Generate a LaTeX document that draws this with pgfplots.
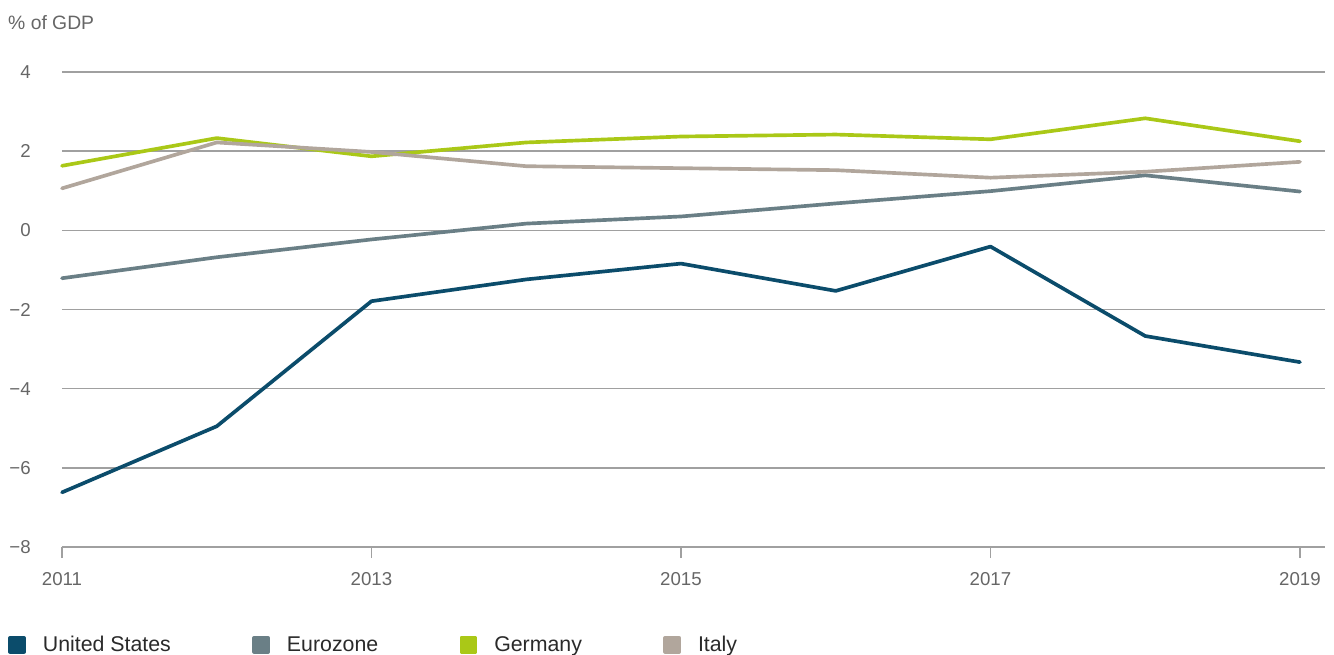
\documentclass[border=0pt]{standalone}
\usepackage{fontspec}
\setmainfont{Liberation Sans}
\usepackage{pgfplots}
\pgfplotsset{compat=1.18}
\definecolor{cUS}{HTML}{0B4C6B}
\definecolor{cEZ}{HTML}{6A7F86}
\definecolor{cDE}{HTML}{AAC817}
\definecolor{cIT}{HTML}{B1A69C}
\definecolor{cgrid}{HTML}{A0A0A0}
\definecolor{ctxt}{HTML}{666666}
\definecolor{cleg}{HTML}{2A2A2A}
\begin{document}
\begin{tikzpicture}
\path[use as bounding box] (0pt,0pt) rectangle (1000.5pt,-491.25pt);
\begin{axis}[
  at={(46.5pt,-410.25pt)}, anchor=south west,
  scale only axis, width=947.25pt, height=356.25pt,
  xmin=2011, xmax=2019.1616, ymin=-8, ymax=4,
  xtick={2011,2013,2015,2017,2019},
  xticklabels={2011,2013,2015,2017,2019},
  ytick={-8,-6,-4,-2,0,2,4},
  yticklabels={−8,−6,−4,−2,0,2,4},
  ymajorgrids, grid style={cgrid, line width=1.2pt},
  axis x line*=bottom, axis y line*=left,
  x axis line style={cgrid, line width=1.2pt, -},
  y axis line style={draw=none},
  xtick style={cgrid, line width=1.2pt},
  ytick style={draw=none},
  tick align=outside, major tick length=8.25pt,
  ticklabel style={font=\fontsize{14}{16}\selectfont, text=ctxt},
  yticklabel style={inner sep=0pt, anchor=east, xshift=-15pt},
  xticklabel style={inner sep=0pt, anchor=north, yshift=-10.5pt},
  clip=false,
  legend columns=4,
  legend style={at={(axis description cs:-0.0428,-0.206)}, anchor=west,
    draw=none, fill=none, inner sep=0pt,
    font=\fontsize{16}{19}\selectfont, text=cleg,
    nodes={inner sep=0pt},
    /tikz/every odd column/.append style={column sep=12.75pt},
    /tikz/every even column/.append style={column sep=61pt}},
  legend image code/.code={\fill[#1] (0pt,-5.25pt) rectangle (10.5pt,5.25pt);},
  every axis plot/.append style={line width=2.75pt, line join=round, line cap=round},
]
\addplot[cUS] coordinates {(2011,-6.62) (2012,-4.95) (2013,-1.79) (2014,-1.24) (2015,-0.84) (2016,-1.53) (2017,-0.41) (2018,-2.67) (2019,-3.33)};
\addlegendentry{United States}
\addplot[cEZ] coordinates {(2011,-1.21) (2012,-0.68) (2013,-0.23) (2014,0.17) (2015,0.35) (2016,0.68) (2017,0.99) (2018,1.39) (2019,0.98)};
\addlegendentry{Eurozone}
\addplot[cDE] coordinates {(2011,1.63) (2012,2.33) (2013,1.87) (2014,2.22) (2015,2.37) (2016,2.42) (2017,2.30) (2018,2.83) (2019,2.25)};
\addlegendentry{Germany}
\addplot[cIT] coordinates {(2011,1.06) (2012,2.22) (2013,1.98) (2014,1.62) (2015,1.57) (2016,1.52) (2017,1.33) (2018,1.48) (2019,1.73)};
\addlegendentry{Italy}
\node[anchor=west, inner sep=0pt, text=ctxt, font=\fontsize{14.5}{17}\selectfont] at (axis description cs:-0.0428,1.105) {\% of GDP};
\end{axis}
\end{tikzpicture}
\end{document}
